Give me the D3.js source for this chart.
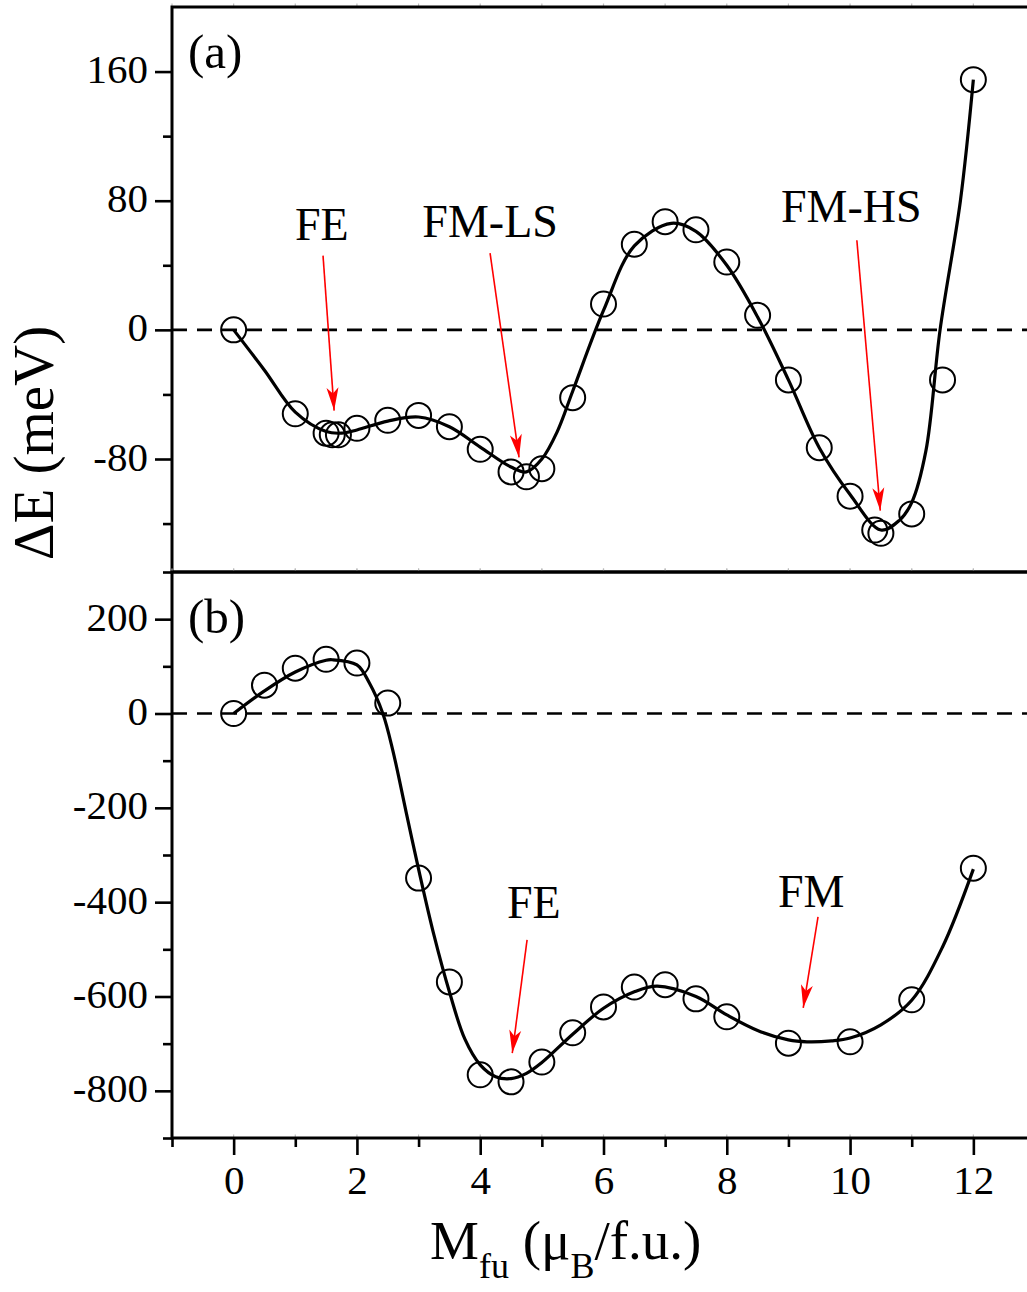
<!DOCTYPE html>
<html>
<head>
<meta charset="utf-8">
<script src="https://cdn.jsdelivr.net/npm/d3@7"></script>
<style>
  body { margin: 0; background: #fff; }
  svg { display: block; }
  text { font-family: "Liberation Serif", "Times New Roman", serif; fill: #000; }
</style>
</head>
<body>
<svg id="chart" width="1027" height="1292"></svg>
<script>
// Panel (a): computed energy difference vs. magnetisation (circles)
const magA = [0, 1, 1.5, 1.6, 1.7, 2, 2.5, 3, 3.5, 4, 4.5, 4.75, 5, 5.5, 6, 6.5, 7, 7.5, 8, 8.5, 9, 9.5, 10, 10.4, 10.5, 11, 11.5, 12];
const energyA = [0, -52, -64, -65, -65, -61, -56, -53, -60, -74, -88, -91, -86, -42, 16, 53, 67, 62, 42, 9, -31, -73, -103, -124, -126, -114, -31, 155];
// Panel (a): smooth fitted curve
const fitMagA = [0, 0.5, 1, 1.5, 1.75, 2, 2.5, 3, 3.5, 4, 4.5, 4.75, 5, 5.25, 5.5, 6, 6.5, 7.1, 7.5, 8, 8.5, 9, 9.5, 10, 10.5, 10.8, 11, 11.23, 11.46, 11.79, 12];
const fitEnergyA = [0, -25, -51, -63, -64, -62, -56.5, -54, -60, -72.6, -85, -88, -80, -63, -38, 12, 52, 66, 61, 40, 8, -31, -73, -102, -124, -118, -107, -75, 0, 80, 155];

// Panel (b)
const magB = [0, 0.5, 1, 1.5, 2, 2.5, 3, 3.5, 4, 4.5, 5, 5.5, 6, 6.5, 7, 7.5, 8, 9, 10, 11, 12];
const energyB = [0, 60, 96, 115, 107, 22, -349, -569, -766, -781, -739, -677, -622, -580, -575, -605, -643, -699, -696, -607, -328];
const fitMagB = [0, 0.5, 1, 1.5, 1.6, 2, 2.2, 2.42, 2.58, 2.8, 3, 3.25, 3.5, 3.75, 4, 4.25, 4.5, 4.75, 5, 5.5, 6, 6.5, 6.87, 7.5, 8, 8.5, 9, 9.3, 9.7, 10, 10.5, 11, 11.5, 12];
const fitEnergyB = [0, 48, 88, 113, 114, 103, 65, 0, -77, -210, -330, -470, -590, -690, -745, -770, -774, -763, -740, -680, -625, -590, -578, -600, -639, -672, -692, -696, -694, -688, -660, -608, -495, -330];

// Axis ticks
const xMajorTicks = [0, 2, 4, 6, 8, 10, 12];
const xMinorTicks = [-1, 1, 3, 5, 7, 9, 11, 13];
const yMajorTicksA = [-80, 0, 80, 160];
const yMinorTicksA = [-120, -40, 40, 120];
const yMajorTicksB = [-800, -600, -400, -200, 0, 200];
const yMinorTicksB = [-900, -700, -500, -300, -100, 100, 300];

// Labelled states: arrow tail/tip in data units, label anchor in data units
const annotationsA = [
  { text: "FE",    lx: 1.43,  ly: 55.6, x1: 1.45,  y1: 46,   x2: 1.63,  y2: -50 },
  { text: "FM-LS", lx: 4.16,  ly: 57.5, x1: 4.16,  y1: 47.5, x2: 4.63,  y2: -79 },
  { text: "FM-HS", lx: 10.02, ly: 66.8, x1: 10.11, y1: 55.5, x2: 10.49, y2: -112 }
];
const annotationsB = [
  { text: "FE", lx: 4.87, ly: -433, x1: 4.76, y1: -480, x2: 4.52, y2: -720 },
  { text: "FM", lx: 9.37, ly: -410, x1: 9.48, y1: -431, x2: 9.24, y2: -624 }
];

const svg = d3.select("#chart");
const left = 172, right = 1035;
const x = d3.scaleLinear().domain([-1, 13]).range([left, right]);
const yA = d3.scaleLinear().domain([-150, 200]).range([572, 7]);
const yB = d3.scaleLinear().domain([-900, 300]).range([1138, 572]);

// arrowhead
svg.append("defs").append("marker")
  .attr("id", "arrowhead")
  .attr("markerUnits", "userSpaceOnUse")
  .attr("viewBox", "-24 -7 26 14")
  .attr("markerWidth", 26).attr("markerHeight", 14)
  .attr("refX", 0).attr("refY", 0)
  .attr("orient", "auto")
  .append("path")
  .attr("d", "M0,0 L-23,-6 L-17,0 L-23,6 Z")
  .attr("fill", "#ff0000");

function drawPanel(y, mags, energies, fitMags, fitEnergies, majorTicks, minorTicks, notes, tag) {
  const g = svg.append("g");
  const [yBot, yTop] = y.range();

  // zero reference line
  g.append("line")
    .attr("x1", left).attr("x2", right)
    .attr("y1", y(0)).attr("y2", y(0))
    .attr("stroke", "#000").attr("stroke-width", 2.6)
    .attr("stroke-dasharray", "15,10");

  // faint inner ticks on the horizontal frame lines
  d3.range(-1, 14).forEach(v => {
    [yTop, yBot].forEach(yy => {
      g.append("line").attr("x1", x(v)).attr("x2", x(v))
        .attr("y1", yy - 3.5).attr("y2", yy)
        .attr("stroke", "#bbb").attr("stroke-width", 1.2);
    });
  });

  // frame
  g.append("rect")
    .attr("x", left).attr("y", yTop)
    .attr("width", right - left).attr("height", yBot - yTop)
    .attr("fill", "none").attr("stroke", "#000").attr("stroke-width", 3);

  // left axis ticks (outward)
  const axis = d3.axisLeft(y).tickValues(majorTicks).tickSize(17).tickPadding(7)
    .tickFormat(d => String(d));
  const ax = g.append("g").attr("transform", `translate(${left},0)`).call(axis);
  ax.select(".domain").remove();
  ax.selectAll(".tick line").attr("stroke", "#000").attr("stroke-width", 2.6);
  ax.selectAll(".tick text")
    .attr("font-size", 41)
    .attr("font-family", '"Liberation Serif", "Times New Roman", serif')
    .attr("fill", "#000")
    .attr("dy", "0.27em");
  const minor = d3.axisLeft(y).tickValues(minorTicks).tickSize(9).tickFormat("");
  const mx = g.append("g").attr("transform", `translate(${left},0)`).call(minor);
  mx.select(".domain").remove();
  mx.selectAll(".tick line").attr("stroke", "#000").attr("stroke-width", 2.6);

  // fitted curve
  const line = d3.line()
    .x((d, i) => x(fitMags[i]))
    .y((d, i) => y(fitEnergies[i]))
    .curve(d3.curveCatmullRom.alpha(0.5));
  g.append("path")
    .attr("d", line(fitMags))
    .attr("fill", "none").attr("stroke", "#000").attr("stroke-width", 3.2)
    .attr("stroke-linejoin", "round");

  // computed points
  g.selectAll("circle.pt").data(mags).join("circle")
    .attr("class", "pt")
    .attr("cx", d => x(d))
    .attr("cy", (d, i) => y(energies[i]))
    .attr("r", 12.5)
    .attr("fill", "none").attr("stroke", "#000").attr("stroke-width", 2);

  // annotations
  notes.forEach(n => {
    g.append("line")
      .attr("x1", x(n.x1)).attr("y1", y(n.y1))
      .attr("x2", x(n.x2)).attr("y2", y(n.y2))
      .attr("stroke", "#ff0000").attr("stroke-width", 1.6)
      .attr("marker-end", "url(#arrowhead)");
    g.append("text")
      .attr("x", x(n.lx)).attr("y", y(n.ly))
      .attr("text-anchor", "middle")
      .attr("font-size", 46)
      .text(n.text);
  });

  // panel tag
  g.append("text")
    .attr("x", 188).attr("y", yTop + 61)
    .attr("font-size", 49)
    .text(tag);
}

drawPanel(yA, magA, energyA, fitMagA, fitEnergyA, yMajorTicksA, yMinorTicksA, annotationsA, "(a)");
drawPanel(yB, magB, energyB, fitMagB, fitEnergyB, yMajorTicksB, yMinorTicksB, annotationsB, "(b)");

// bottom x axis (outward ticks)
const xAxis = d3.axisBottom(x).tickValues(xMajorTicks).tickSize(17).tickPadding(10)
  .tickFormat(d => String(d));
const xg = svg.append("g").attr("transform", "translate(0,1138)").call(xAxis);
xg.select(".domain").remove();
xg.selectAll(".tick line").attr("stroke", "#000").attr("stroke-width", 2.6);
xg.selectAll(".tick text")
  .attr("font-size", 41)
  .attr("font-family", '"Liberation Serif", "Times New Roman", serif')
  .attr("fill", "#000");
const xMinor = d3.axisBottom(x).tickValues(xMinorTicks).tickSize(9).tickFormat("");
const xmg = svg.append("g").attr("transform", "translate(0,1138)").call(xMinor);
xmg.select(".domain").remove();
xmg.selectAll(".tick line").attr("stroke", "#000").attr("stroke-width", 2.6);

// axis titles
svg.append("text")
  .attr("transform", "translate(53,443) rotate(-90)")
  .attr("text-anchor", "middle")
  .attr("font-size", 57)
  .text("ΔE (meV)");

const xt = svg.append("text")
  .attr("x", 430).attr("y", 1259)
  .attr("font-size", 55);
xt.append("tspan").text("M");
xt.append("tspan").attr("font-size", 36).attr("dy", 19).text("fu");
xt.append("tspan").attr("dy", -19).text(" (μ");
xt.append("tspan").attr("font-size", 36).attr("dy", 19).text("B");
xt.append("tspan").attr("dy", -19).text("/f.u.)");
</script>
</body>
</html>
